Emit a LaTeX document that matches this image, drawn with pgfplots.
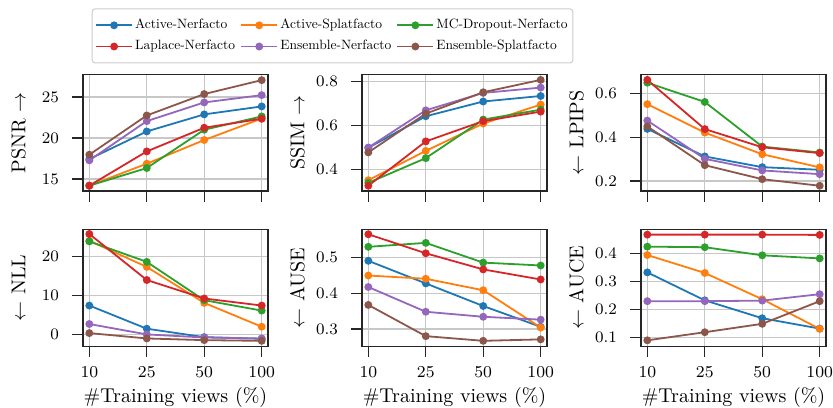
\documentclass[border=0pt]{standalone}
\usepackage{pgfplots}
\usepackage{pgfplotstable}
\pgfplotsset{compat=1.18}
\definecolor{cB}{HTML}{1F77B4}
\definecolor{cO}{HTML}{FF7F0E}
\definecolor{cG}{HTML}{2CA02C}
\definecolor{cR}{HTML}{D62728}
\definecolor{cP}{HTML}{9467BD}
\definecolor{cN}{HTML}{8C564B}
\font\legfont="[lmroman10-regular]:mapping=tex-text" at 6.75pt

\pgfplotstableread{
x b o g r p n
0 17.44 14.19 14.19 14.19 17.28 17.97
1 20.81 16.87 16.34 18.37 22.07 22.76
2 22.89 19.76 21.02 21.26 24.35 25.37
3 23.86 22.38 22.64 22.36 25.24 27.07
}\psnr
\pgfplotstableread{
x b o g r p n
0 0.499 0.352 0.340 0.327 0.500 0.478
1 0.642 0.485 0.452 0.528 0.669 0.654
2 0.709 0.609 0.627 0.620 0.748 0.751
3 0.734 0.695 0.672 0.663 0.772 0.807
}\ssim
\pgfplotstableread{
x b o g r p n
0 0.438 0.551 0.649 0.662 0.476 0.449
1 0.312 0.421 0.561 0.437 0.301 0.272
2 0.263 0.322 0.357 0.354 0.248 0.208
3 0.251 0.262 0.330 0.327 0.231 0.178
}\lpips
\pgfplotstableread{
x b o g r p n
0 7.47 24.0 23.86 25.75 2.75 0.43
1 1.55 17.34 18.63 13.99 0.09 -0.94
2 -0.60 8.15 8.84 9.27 -0.69 -1.37
3 -1.03 2.06 6.18 7.47 -0.95 -1.55
}\nll
\pgfplotstableread{
x b o g r p n
0 0.490 0.449 0.529 0.564 0.417 0.367
1 0.427 0.440 0.540 0.511 0.348 0.280
2 0.364 0.408 0.485 0.466 0.334 0.267
3 0.306 0.304 0.477 0.438 0.326 0.271
}\ause
\pgfplotstableread{
x b o g r p n
0 0.333 0.395 0.425 0.468 0.230 0.090
1 0.233 0.331 0.423 0.468 0.230 0.119
2 0.169 0.237 0.394 0.468 0.232 0.149
3 0.132 0.131 0.383 0.467 0.255 0.230
}\auce

\pgfplotsset{
  base/.style={
    scale only axis, width=92.5pt, height=58.3pt,
    anchor=south west,
    xmin=-0.11, xmax=3.11, xtick={0,1,2,3},
    grid=major, major grid style={black!22, line width=0.6pt},
    axis line style={black!85, line width=0.6pt},
    tick align=outside, major tick length=5.5pt,
    every tick/.style={black!85, line width=0.6pt},
    xtick pos=bottom, ytick pos=left,
    tick label style={font=\fontsize{8.3}{10}\selectfont},
    yticklabel style={/pgf/number format/fixed, xshift=-3pt},
    xticklabel style={yshift=-1pt},
    ylabel style={font=\fontsize{10}{12}\selectfont, at={(axis description cs:-0.311,0.5)}, anchor=base, inner sep=0pt},
    xlabel style={font=\fontsize{10}{12}\selectfont, at={(axis description cs:0.5,-0.48)}, anchor=base, inner sep=0pt},
    every axis plot/.append style={line width=0.9pt, mark=*, mark size=1.5pt},
  },
  toprow/.style={base, xticklabels={}},
  botrow/.style={base, xticklabels={10,25,50,100}, xlabel={\#Training views (\%)}},
}

\newcommand{\allplots}[1]{%
  \addplot[cB] table[x=x,y=b]{#1};
  \addplot[cO] table[x=x,y=o]{#1};
  \addplot[cG] table[x=x,y=g]{#1};
  \addplot[cR] table[x=x,y=r]{#1};
  \addplot[cP] table[x=x,y=p]{#1};
  \addplot[cN] table[x=x,y=n]{#1};
}

\begin{document}
\begin{tikzpicture}
\useasboundingbox (0,0) rectangle (416.5pt,203.5pt);

\begin{axis}[toprow, at={(41.5pt,108pt)}, ymin=13.54, ymax=27.77, ytick={15,20,25},
  ylabel={PSNR $\rightarrow$},
  legend columns=3, legend cell align=left,
  legend image code/.code={\draw[line width=0.9pt, mark repeat=2,mark phase=2] plot coordinates {(0pt,0pt) (9pt,0pt) (18pt,0pt)};},
  legend style={at={(0.047,1.567)}, anchor=north west, draw=black!20, line width=0.5pt, rounded corners=1.5pt,
    font=\legfont, inner xsep=1.5pt, inner ysep=4pt, row sep=2.1pt,
    nodes={inner sep=1.1pt},
    /tikz/every even column/.append style={column sep=1.5pt}}]
\allplots{\psnr}
\legend{Active-Nerfacto, Active-Splatfacto, MC-Dropout-Nerfacto, Laplace-Nerfacto, Ensemble-Nerfacto, Ensemble-Splatfacto}
\end{axis}

\begin{axis}[toprow, at={(181pt,108pt)}, ymin=0.303, ymax=0.832, ytick={0.4,0.6,0.8},
  ylabel={SSIM $\rightarrow$}]
\allplots{\ssim}
\end{axis}

\begin{axis}[toprow, at={(320.5pt,108pt)}, ymin=0.154, ymax=0.687, ytick={0.2,0.4,0.6},
  ylabel={$\leftarrow$ LPIPS}]
\allplots{\lpips}
\end{axis}

\begin{axis}[botrow, at={(41.5pt,30.4pt)}, ymin=-2.92, ymax=26.87, ytick={0,10,20},
  ylabel={$\leftarrow$ NLL}]
\allplots{\nll}
\end{axis}

\begin{axis}[botrow, at={(181pt,30.4pt)}, ymin=0.252, ymax=0.577, ytick={0.3,0.4,0.5},
  ylabel={$\leftarrow$ AUSE}]
\allplots{\ause}
\end{axis}

\begin{axis}[botrow, at={(320.5pt,30.4pt)}, ymin=0.069, ymax=0.486, ytick={0.1,0.2,0.3,0.4},
  ylabel={$\leftarrow$ AUCE}]
\allplots{\auce}
\end{axis}
\end{tikzpicture}
\end{document}
